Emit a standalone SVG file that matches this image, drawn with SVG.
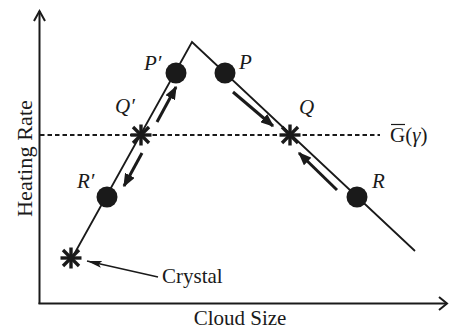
<svg xmlns="http://www.w3.org/2000/svg" width="449" height="330" viewBox="0 0 449 330">
<defs>
<style>
.ax{stroke:#1a1a1a;stroke-width:2;fill:none}
.ln{stroke:#1a1a1a;stroke-width:1.8;fill:none}
.arr{stroke:#1a1a1a;stroke-width:3;fill:none;marker-end:url(#ah)}
.dot{fill:#1a1a1a}
.star line{stroke:#1a1a1a;stroke-width:3.4}
.lbl{font-family:"Liberation Serif",serif;font-style:italic;font-size:21px;fill:#1a1a1a}
.txt{font-family:"Liberation Serif",serif;font-size:21px;fill:#1a1a1a}
</style>
<marker id="ah" viewBox="0 0 10 8" refX="9" refY="4" markerWidth="4.5" markerHeight="3.6" markerUnits="strokeWidth" orient="auto">
<path d="M0,0 L10,4 L0,8 Z" fill="#1a1a1a"/>
</marker>
<marker id="thin" viewBox="0 0 16 8" refX="15" refY="4" markerWidth="16" markerHeight="8" markerUnits="userSpaceOnUse" orient="auto">
<path d="M0,0.5 L15,4 L0,7.5 L3,4 Z" fill="#1a1a1a"/>
</marker>
<g id="starshape" class="star">
<line x1="-10.5" y1="0" x2="10.5" y2="0"/>
<line x1="0" y1="-10.5" x2="0" y2="10.5"/>
<line x1="-8" y1="-8" x2="8" y2="8"/>
<line x1="-8" y1="8" x2="8" y2="-8"/>
</g>
</defs>
<rect width="449" height="330" fill="#fff"/>
<g id="axes">
<path class="ax" d="M39.5,304 L39.5,11"/>
<path class="ax" d="M34,21 L39.5,11 L45,21"/>
<path class="ax" d="M38.5,303.5 L447,303.5"/>
<path class="ax" d="M439,297 L447,303.5 L439,310"/>
<text class="txt" transform="translate(31.5,158.5) rotate(-90)" text-anchor="middle" textLength="117" lengthAdjust="spacingAndGlyphs">Heating Rate</text>
<text class="txt" x="240" y="325" text-anchor="middle">Cloud Size</text>
</g>
<g id="connectors">
<path class="ln" d="M72,258 L192,42 L415,251"/>
<path d="M40,135 L380,135" stroke="#1a1a1a" stroke-width="2" stroke-dasharray="4.5,3"/>
<path class="arr" d="M157,122 L176,87"/>
<path class="arr" d="M142,153 L124,186"/>
<path class="arr" d="M233,92 L273,126"/>
<path class="arr" d="M337,190 L299,153"/>
<path d="M158,277 L87,261" stroke="#1a1a1a" stroke-width="1.5" marker-end="url(#thin)"/>
</g>
<g id="Pp"><circle class="dot" cx="176" cy="73" r="10.5"/><text class="lbl" x="144" y="70">P′</text></g>
<g id="P"><circle class="dot" cx="225" cy="73" r="10.5"/><text class="lbl" x="239" y="69">P</text></g>
<g id="Qp"><use href="#starshape" x="141" y="135"/><text class="lbl" x="115" y="113">Q′</text></g>
<g id="Q"><use href="#starshape" x="290" y="135"/><text class="lbl" x="299" y="114">Q</text></g>
<g id="Rp"><circle class="dot" cx="107" cy="197" r="10.5"/><text class="lbl" x="77" y="188">R′</text></g>
<g id="R"><circle class="dot" cx="357" cy="197" r="10.5"/><text class="lbl" x="372" y="188">R</text></g>
<g id="crystal"><use href="#starshape" x="71" y="258"/><text class="txt" x="162" y="283">Crystal</text></g>
<g id="G"><text class="txt" x="390" y="142">G(<tspan font-style="italic">γ</tspan>)</text><path d="M391,124.5 L405,124.5" stroke="#1a1a1a" stroke-width="1.2"/></g>
</svg>
